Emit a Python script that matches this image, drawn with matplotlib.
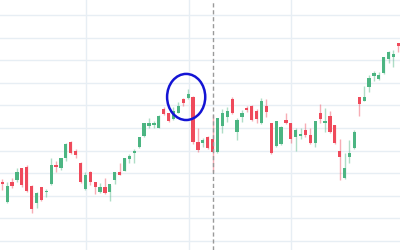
import numpy as np
import matplotlib
matplotlib.use('Agg')
import matplotlib.pyplot as plt
from matplotlib.patches import Ellipse

# candles (arbitrary price units, grid every 10)
opens = [25.7, 17.3, 25.7, 27.0, 31.9, 32.7, 23.9, 16.8, 23.5, 21.7,
         25.2, 33.2, 32.3, 36.7, 43.8, 39.4, 34.1, 23.0, 30.1, 25.7,
         21.7, 23.5, 21.7, 27.0, 30.5, 31.0, 36.3, 38.9, 41.6, 46.5,
         50.9, 51.3, 50.0, 58.0, 56.2, 54.0, 56.6, 62.8, 63.3, 63.7,
         43.8, 43.4, 46.0, 45.1, 39.4, 50.9, 54.9, 62.8, 48.2, 54.9,
         58.4, 59.7, 57.5, 52.2, 59.3, 51.8, 42.0, 42.9, 53.1, 51.8,
         46.0, 46.5, 49.1, 46.5, 43.4, 56.6, 52.2, 55.3, 50.9, 39.4,
         27.9, 37.2, 41.2, 63.3, 61.9, 68.1, 73.0, 71.7, 74.3, 80.5,
         81.4, 87.2]
highs = [27.4, 26.1, 27.9, 32.3, 32.3, 33.6, 24.8, 21.7, 23.9, 23.0,
         36.7, 35.4, 36.7, 43.4, 44.3, 40.7, 35.0, 30.5, 31.0, 26.1,
         25.7, 27.9, 24.8, 30.5, 34.5, 36.7, 38.5, 40.7, 46.0, 52.2,
         54.4, 53.1, 55.8, 59.3, 56.6, 59.3, 61.5, 63.3, 67.3, 64.2,
         50.0, 45.6, 46.5, 55.8, 54.4, 58.4, 59.3, 63.7, 54.4, 58.0,
         59.7, 60.2, 58.4, 63.3, 62.8, 52.2, 53.1, 50.9, 56.6, 52.2,
         50.0, 50.0, 52.2, 50.0, 53.1, 60.6, 58.9, 57.5, 51.3, 45.1,
         38.9, 44.7, 49.1, 63.7, 68.6, 73.5, 75.2, 74.8, 81.4, 84.1,
         84.5, 87.6]
lows = [22.6, 16.8, 23.5, 26.1, 23.9, 21.7, 12.4, 14.6, 17.7, 19.5,
        24.8, 30.5, 31.4, 35.4, 38.5, 36.7, 25.7, 22.6, 24.8, 20.8,
        21.2, 20.8, 17.7, 25.2, 29.2, 31.0, 34.5, 34.5, 41.2, 46.0,
        50.0, 50.0, 50.0, 55.8, 52.7, 53.5, 56.6, 59.7, 62.8, 42.9,
        39.4, 41.6, 40.7, 30.5, 38.9, 47.8, 52.7, 56.2, 44.7, 52.7,
        57.1, 53.1, 52.2, 51.8, 54.9, 38.5, 41.6, 42.5, 51.8, 43.4,
        39.8, 45.1, 46.0, 42.9, 41.6, 52.2, 48.2, 47.8, 42.9, 27.0,
        27.4, 34.5, 40.7, 55.3, 61.9, 65.9, 70.8, 71.2, 73.9, 78.8,
        77.0, 83.6]
closes = [25.2, 23.9, 24.3, 30.1, 24.8, 22.1, 14.2, 20.8, 18.1, 22.1,
          33.6, 32.7, 36.3, 42.5, 38.9, 38.1, 26.1, 28.8, 26.1, 23.9,
          23.5, 21.2, 24.8, 30.1, 29.6, 36.3, 37.6, 39.8, 45.6, 51.8,
          51.8, 51.8, 55.3, 56.2, 53.1, 57.1, 59.7, 61.1, 64.6, 43.8,
          40.3, 44.3, 41.2, 39.4, 54.0, 56.2, 57.1, 56.6, 53.1, 56.6,
          58.0, 53.5, 54.0, 61.5, 57.1, 38.9, 52.7, 50.0, 52.2, 45.1,
          48.7, 47.3, 46.9, 43.4, 52.7, 54.0, 52.7, 48.2, 43.4, 37.2,
          31.9, 38.5, 47.8, 60.6, 63.3, 72.1, 73.9, 73.0, 81.0, 83.6,
          82.3, 86.3]

grid_x = [17.1, 38.2, 59.0]   # vertical grid lines (candle index)
marker_idx = 43               # dashed marker line
circled = (37.6, 63.7)        # hand-drawn circle around these candles

up_col = '#4cb582'
down_col = '#ef4a5b'

fig = plt.figure(figsize=(4, 2.5), dpi=100)
ax = fig.add_axes([0, 0, 1, 1])
ax.set_xlim(-0.47, 81.33)
ax.set_ylim(-4.0, 106.6)

for yv in range(0, 101, 10):
    ax.axhline(yv, color='#e7eef4', lw=1, zorder=0)
for xv in grid_x:
    ax.axvline(xv, color='#e7eef4', lw=1, zorder=0)

x = np.arange(len(opens))
o = np.array(opens)
c = np.array(closes)
up = c >= o
cols = np.where(up, up_col, down_col)

ax.vlines(x, lows, highs, colors=cols, lw=1, alpha=0.45, zorder=2)
ax.bar(x, np.abs(c - o) + 0.4, bottom=np.minimum(o, c) - 0.2, width=0.66,
       color=cols, zorder=3)

ax.axvline(marker_idx, color='#9a9a9a', lw=1, dashes=(3, 2), zorder=4)

ax.add_patch(Ellipse(circled, width=7.8, height=20.4, angle=0,
                     fill=False, ec='#1414d4', lw=1.8, zorder=5))

ax.axis('off')
fig.savefig('out.png', dpi=100, facecolor='white')
